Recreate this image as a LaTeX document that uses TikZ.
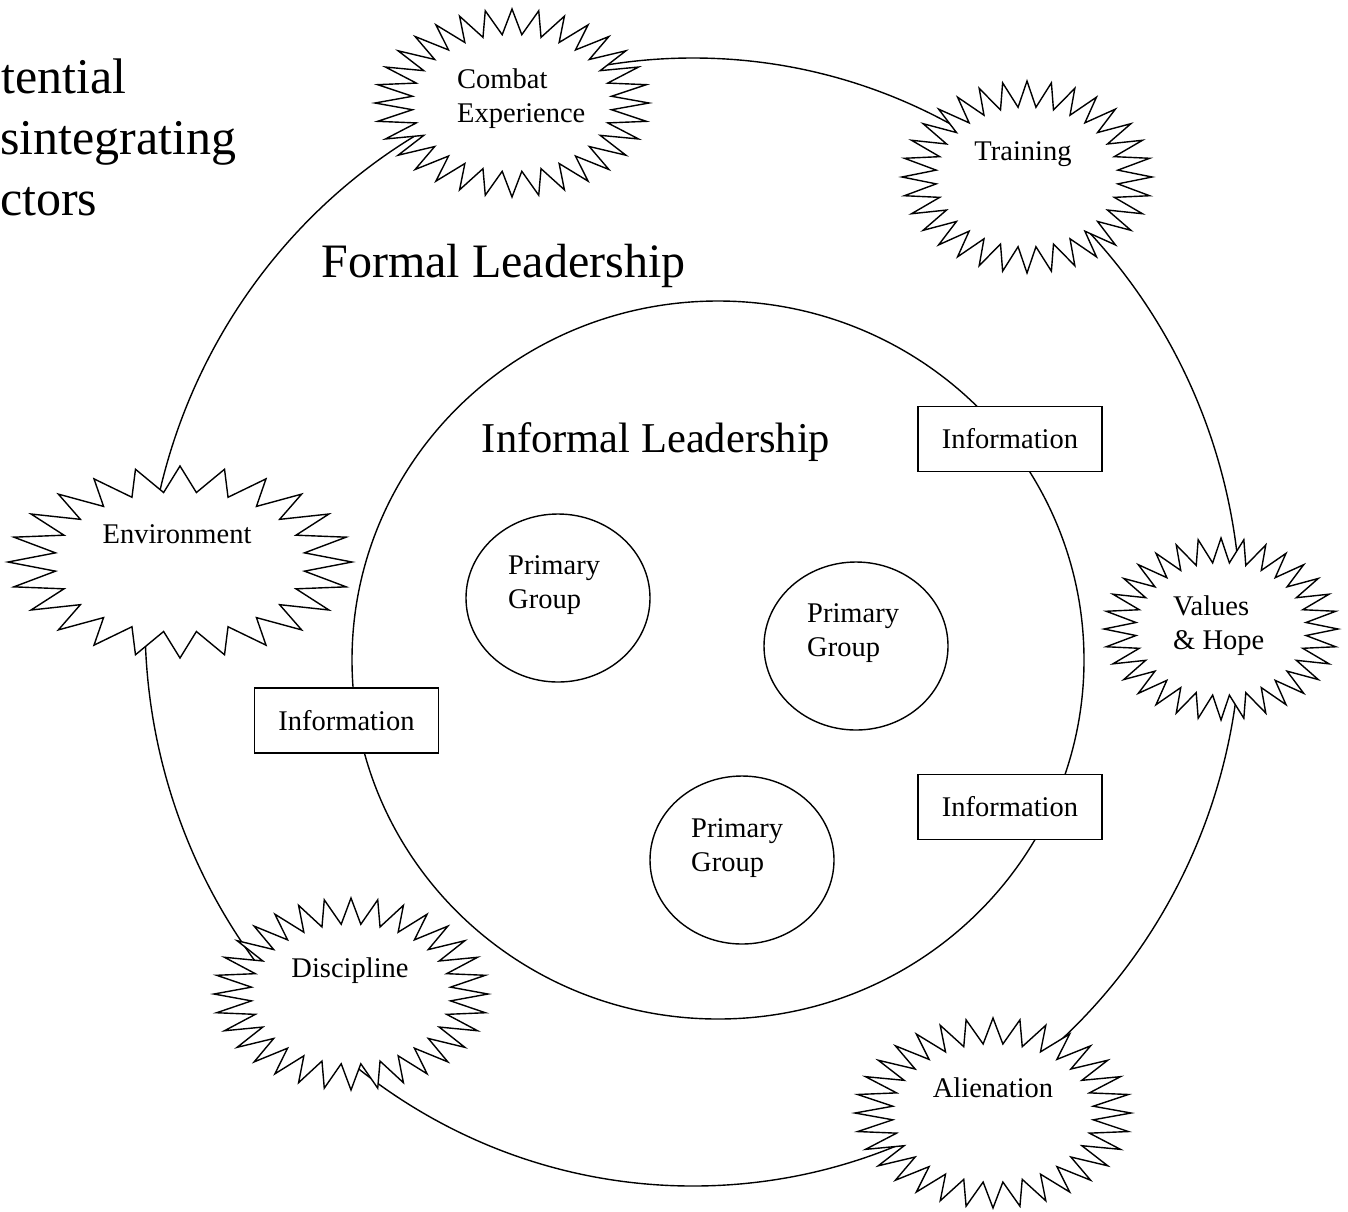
\documentclass[tikz,border=0pt]{standalone}
\usepackage{fontspec}
\setmainfont{Liberation Serif}
\usetikzlibrary{shapes.geometric}
\tikzset{
  ln/.style={line width=1.4pt},
  burstline/.style={line width=1.4pt, fill=white, line join=miter, miter limit=20},
  small/.style={inner sep=0pt, font=\fontsize{28.5}{34}\selectfont, align=left},
  bigtxt/.style={inner sep=0pt, font=\fontsize{48}{60}\selectfont},
  titletxt/.style={inner sep=0pt, font=\fontsize{50}{60}\selectfont},
  midtxt/.style={inner sep=0pt, font=\fontsize{42.5}{50}\selectfont},
  infobox/.style={draw, line width=1.4pt, fill=white, minimum width=184pt, minimum height=65pt, inner sep=0pt, font=\fontsize{28.5}{34}\selectfont},
  pgroup/.style={draw, ellipse, line width=1.4pt, minimum width=184pt, minimum height=168pt, inner sep=0pt},
}
\newcommand\mkburst[6]{% name, cx, cy, rx, ry, points
  \coordinate (#1) at (#2,#3);
  \draw[burstline] plot[domain=0:{2*#6-1}, samples={2*#6}, variable=\k]
    ({#2+#4*(1-0.27*mod(round(\k),2))*cos(\k*180/#6)},
     {#3+#5*(1-0.27*mod(round(\k),2))*sin(\k*180/#6)}) -- cycle;
}
\begin{document}
\begin{tikzpicture}[x=1pt,y=-1pt]
\useasboundingbox (0,0) rectangle (1348,1211);
% rings
\draw[ln] (693,622) ellipse [x radius=548pt, y radius=564pt];
\draw[ln] (718,660) ellipse [x radius=366pt, y radius=359pt];
% bursts
\mkburst{combat}{512}{103}{137}{94}{32}
\mkburst{training}{1027}{177}{125}{96}{32}
\mkburst{values}{1221}{629}{117}{91}{32}
\mkburst{env}{180}{562}{172}{96}{24}
\mkburst{discipline}{351}{994}{137}{96}{32}
\mkburst{alienation}{993}{1113}{138}{95}{32}
% burst labels
\node[small, anchor=west] (tcombat) at (457,98.5) {Combat\\Experience};
\node[small, anchor=base] (ttraining) at (1023,160) {Training};
\node[small, anchor=west] (tvalues) at (1173,626) {Values\\\& Hope};
\node[small, anchor=base] (tenv) at (177,543) {Environment};
\node[small, anchor=base] (tdisc) at (350,977) {Discipline};
\node[small, anchor=base] (talien) at (993,1097) {Alienation};
% information boxes
\node[infobox] (info1) at (1010,439) {Information};
\node[infobox] (info2) at (346.5,720.5) {Information};
\node[infobox] (info3) at (1010,807) {Information};
% primary groups
\node[pgroup] (pg1) at (558,598) {};
\node[pgroup] (pg2) at (856,646) {};
\node[pgroup] (pg3) at (742,860) {};
\node[small, anchor=west] (tpg1) at (508,585) {Primary\\Group};
\node[small, anchor=west] (tpg2) at (807,633.5) {Primary\\Group};
\node[small, anchor=west] (tpg3) at (691,848) {Primary\\Group};
% headings
\node[bigtxt, anchor=base] (formal) at (503.5,277) {Formal Leadership};
\node[midtxt, anchor=base] (informal) at (656,452) {Informal Leadership};
\node[titletxt, anchor=base west] (ti1) at (1,93) {tential};
\node[titletxt, anchor=base west] (ti2) at (0,154) {sintegrating};
\node[titletxt, anchor=base west] (ti3) at (0,215) {ctors};
\end{tikzpicture}
\end{document}
